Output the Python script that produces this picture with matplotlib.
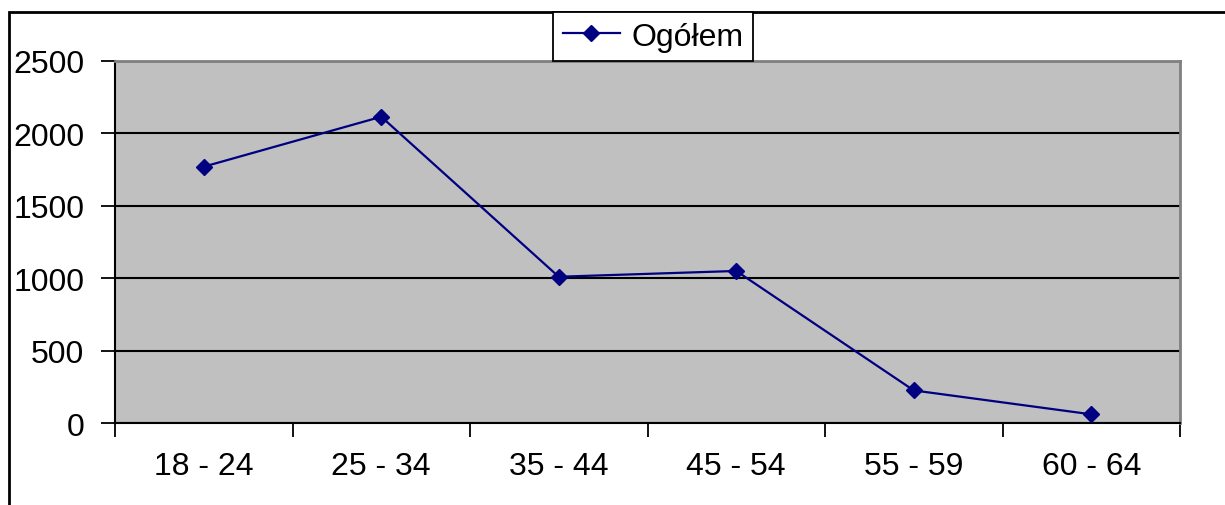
import matplotlib.pyplot as plt
from matplotlib.patches import Rectangle

# dane
categories = ["18 - 24", "25 - 34", "35 - 44", "45 - 54", "55 - 59", "60 - 64"]
values = [1770, 2115, 1010, 1050, 225, 60]
series_name = "Ogółem"
y_ticks = [0, 500, 1000, 1500, 2000, 2500]

plt.rcParams["font.family"] = ["Liberation Sans", "DejaVu Sans"]
FS = 23

W, H = 1225, 506
fig = plt.figure(figsize=(W / 100, H / 100), dpi=100)

# ramka wykresu (ucięta z prawej i u dołu)
fig.patches.append(Rectangle((9 / W, -0.2), 1.2, 1.2 - 13 / H,
                             transform=fig.transFigure, fill=False,
                             edgecolor="black", linewidth=2.0, zorder=0))

ax = fig.add_axes([115 / W, 1 - 424 / H, (1180 - 115) / W, (424 - 62) / H])
ax.set_facecolor("#C0C0C0")

x = list(range(len(categories)))
ax.plot(x, values, color="#000080", linewidth=1.6, marker="D",
        markersize=8, label=series_name, zorder=3)

ax.set_xlim(-0.5, len(categories) - 0.5)
ax.set_ylim(0, 2500)
ax.set_yticks(y_ticks)
ax.set_yticklabels([str(v) for v in y_ticks])
ax.yaxis.grid(True, color="black", linewidth=1.5)
ax.set_axisbelow(True)

ax.set_xticks(x)
ax.set_xticklabels(categories)
ax.set_xticks([i - 0.5 for i in range(len(categories) + 1)], minor=True)
ax.tick_params(axis="x", which="major", length=0, pad=20, labelsize=FS)
ax.tick_params(axis="x", which="minor", length=10, width=1.3, direction="out")
ax.tick_params(axis="y", length=10, width=1.3, pad=12, labelsize=FS)

for s in ("left", "bottom"):
    ax.spines[s].set_color("black")
    ax.spines[s].set_linewidth(1.5)
for s in ("top", "right"):
    ax.spines[s].set_color("#808080")
    ax.spines[s].set_linewidth(2.0)

leg = fig.legend(loc="upper left", bbox_to_anchor=(553 / W, 1 - 13 / H),
                 bbox_transform=fig.transFigure, borderaxespad=0,
                 fontsize=FS, frameon=True, fancybox=False,
                 handlelength=1.8, handletextpad=0.35, borderpad=0.3)
leg.get_frame().set_edgecolor("black")
leg.get_frame().set_linewidth(1.3)
leg.get_frame().set_facecolor("white")
leg.get_frame().set_alpha(1)

fig.savefig("out.png", dpi=100)
